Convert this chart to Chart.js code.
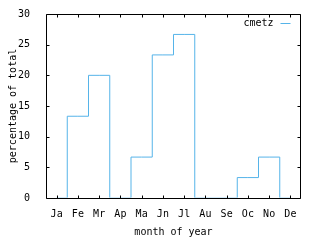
<!DOCTYPE html>
<html>
<head>
<meta charset="utf-8">
<script src="https://cdn.jsdelivr.net/npm/chart.js@4"></script>
<style>
  html, body { margin: 0; padding: 0; background: #fff; }
</style>
</head>
<body>
<canvas id="monthChart" width="320" height="240"></canvas>
<script>
// Data
const months = ["Ja", "Fe", "Mr", "Ap", "Ma", "Jn", "Jl", "Au", "Se", "Oc", "No", "De"];
const cmetzShare = [0, 13.33, 20, 0, 6.67, 23.33, 26.67, 0, 0, 3.33, 6.67, 0];
const yTicks = [0, 5, 10, 15, 20, 25, 30];
const seriesName = "cmetz";

const monoFont = { family: "'DejaVu Sans Mono', monospace", size: 10 };
const lineColor = "rgb(86,180,233)";

// gnuplot-like frame: full border, inward ticks on all sides, key in the corner
const gnuplotFrame = {
    id: "gnuplotFrame",
    afterDraw(chart) {
        const { ctx, chartArea: a, scales: { x, y } } = chart;
        const L = Math.round(a.left) + 0.5, R = Math.round(a.right) - 0.5;
        const T = Math.round(a.top) + 0.5, B = Math.round(a.bottom) + 0.5;
        const tick = 3;
        ctx.save();
        ctx.strokeStyle = "#000";
        ctx.lineWidth = 1;
        ctx.beginPath();
        ctx.rect(L, T, R - L, B - T);
        x.ticks.forEach((t, i) => {
            const px = Math.round(x.getPixelForTick(i)) + 0.5;
            ctx.moveTo(px, B); ctx.lineTo(px, B - tick);
            ctx.moveTo(px, T); ctx.lineTo(px, T + tick);
        });
        y.ticks.forEach((t) => {
            const py = Math.round(y.getPixelForValue(t.value)) + 0.5;
            ctx.moveTo(L, py); ctx.lineTo(L + tick, py);
            ctx.moveTo(R, py); ctx.lineTo(R - tick, py);
        });
        ctx.stroke();

        // key
        const ds = chart.data.datasets[0];
        const ky = Math.round(a.top) + 9.5;
        ctx.fillStyle = "#000";
        ctx.font = "10px 'DejaVu Sans Mono', monospace";
        ctx.textAlign = "right";
        ctx.textBaseline = "middle";
        ctx.fillText(ds.label, R - 27, ky);
        ctx.strokeStyle = lineColor;
        ctx.beginPath();
        ctx.moveTo(R - 20, ky);
        ctx.lineTo(R - 10, ky);
        ctx.stroke();
        ctx.restore();
    }
};

const ctxMonth = document.getElementById("monthChart").getContext("2d");

new Chart(ctxMonth, {
    type: "line",
    data: {
        labels: months,
        datasets: [{
            label: seriesName,
            data: cmetzShare,
            borderColor: lineColor,
            borderWidth: 1,
            stepped: "middle",
            pointRadius: 0,
            fill: false,
            clip: { left: 2, top: 2, right: 2, bottom: -0.5 }
        }]
    },
    options: {
        responsive: false,
        animation: false,
        layout: { padding: { top: 14, right: 19, left: 0, bottom: 0 } },
        plugins: {
            legend: { display: false },
            tooltip: { enabled: false }
        },
        scales: {
            x: {
                offset: true,
                grid: { display: false },
                border: { display: false },
                ticks: { color: "#000", font: monoFont, padding: 2, maxRotation: 0, autoSkip: false },
                title: { display: true, text: "month of year", color: "#000", font: monoFont, padding: { top: 0, bottom: 2 } },
                afterFit(scale) { scale.height = 42; }
            },
            y: {
                min: 0,
                max: 30,
                grid: { display: false },
                border: { display: false },
                ticks: { color: "#000", font: monoFont, padding: 8 },
                afterBuildTicks(scale) { scale.ticks = yTicks.map(v => ({ value: v })); },
                title: { display: true, text: "percentage of total", color: "#000", font: monoFont, padding: { top: 7, bottom: 0 } },
                afterFit(scale) { scale.width = 46; }
            }
        }
    },
    plugins: [gnuplotFrame]
});
</script>
</body>
</html>
